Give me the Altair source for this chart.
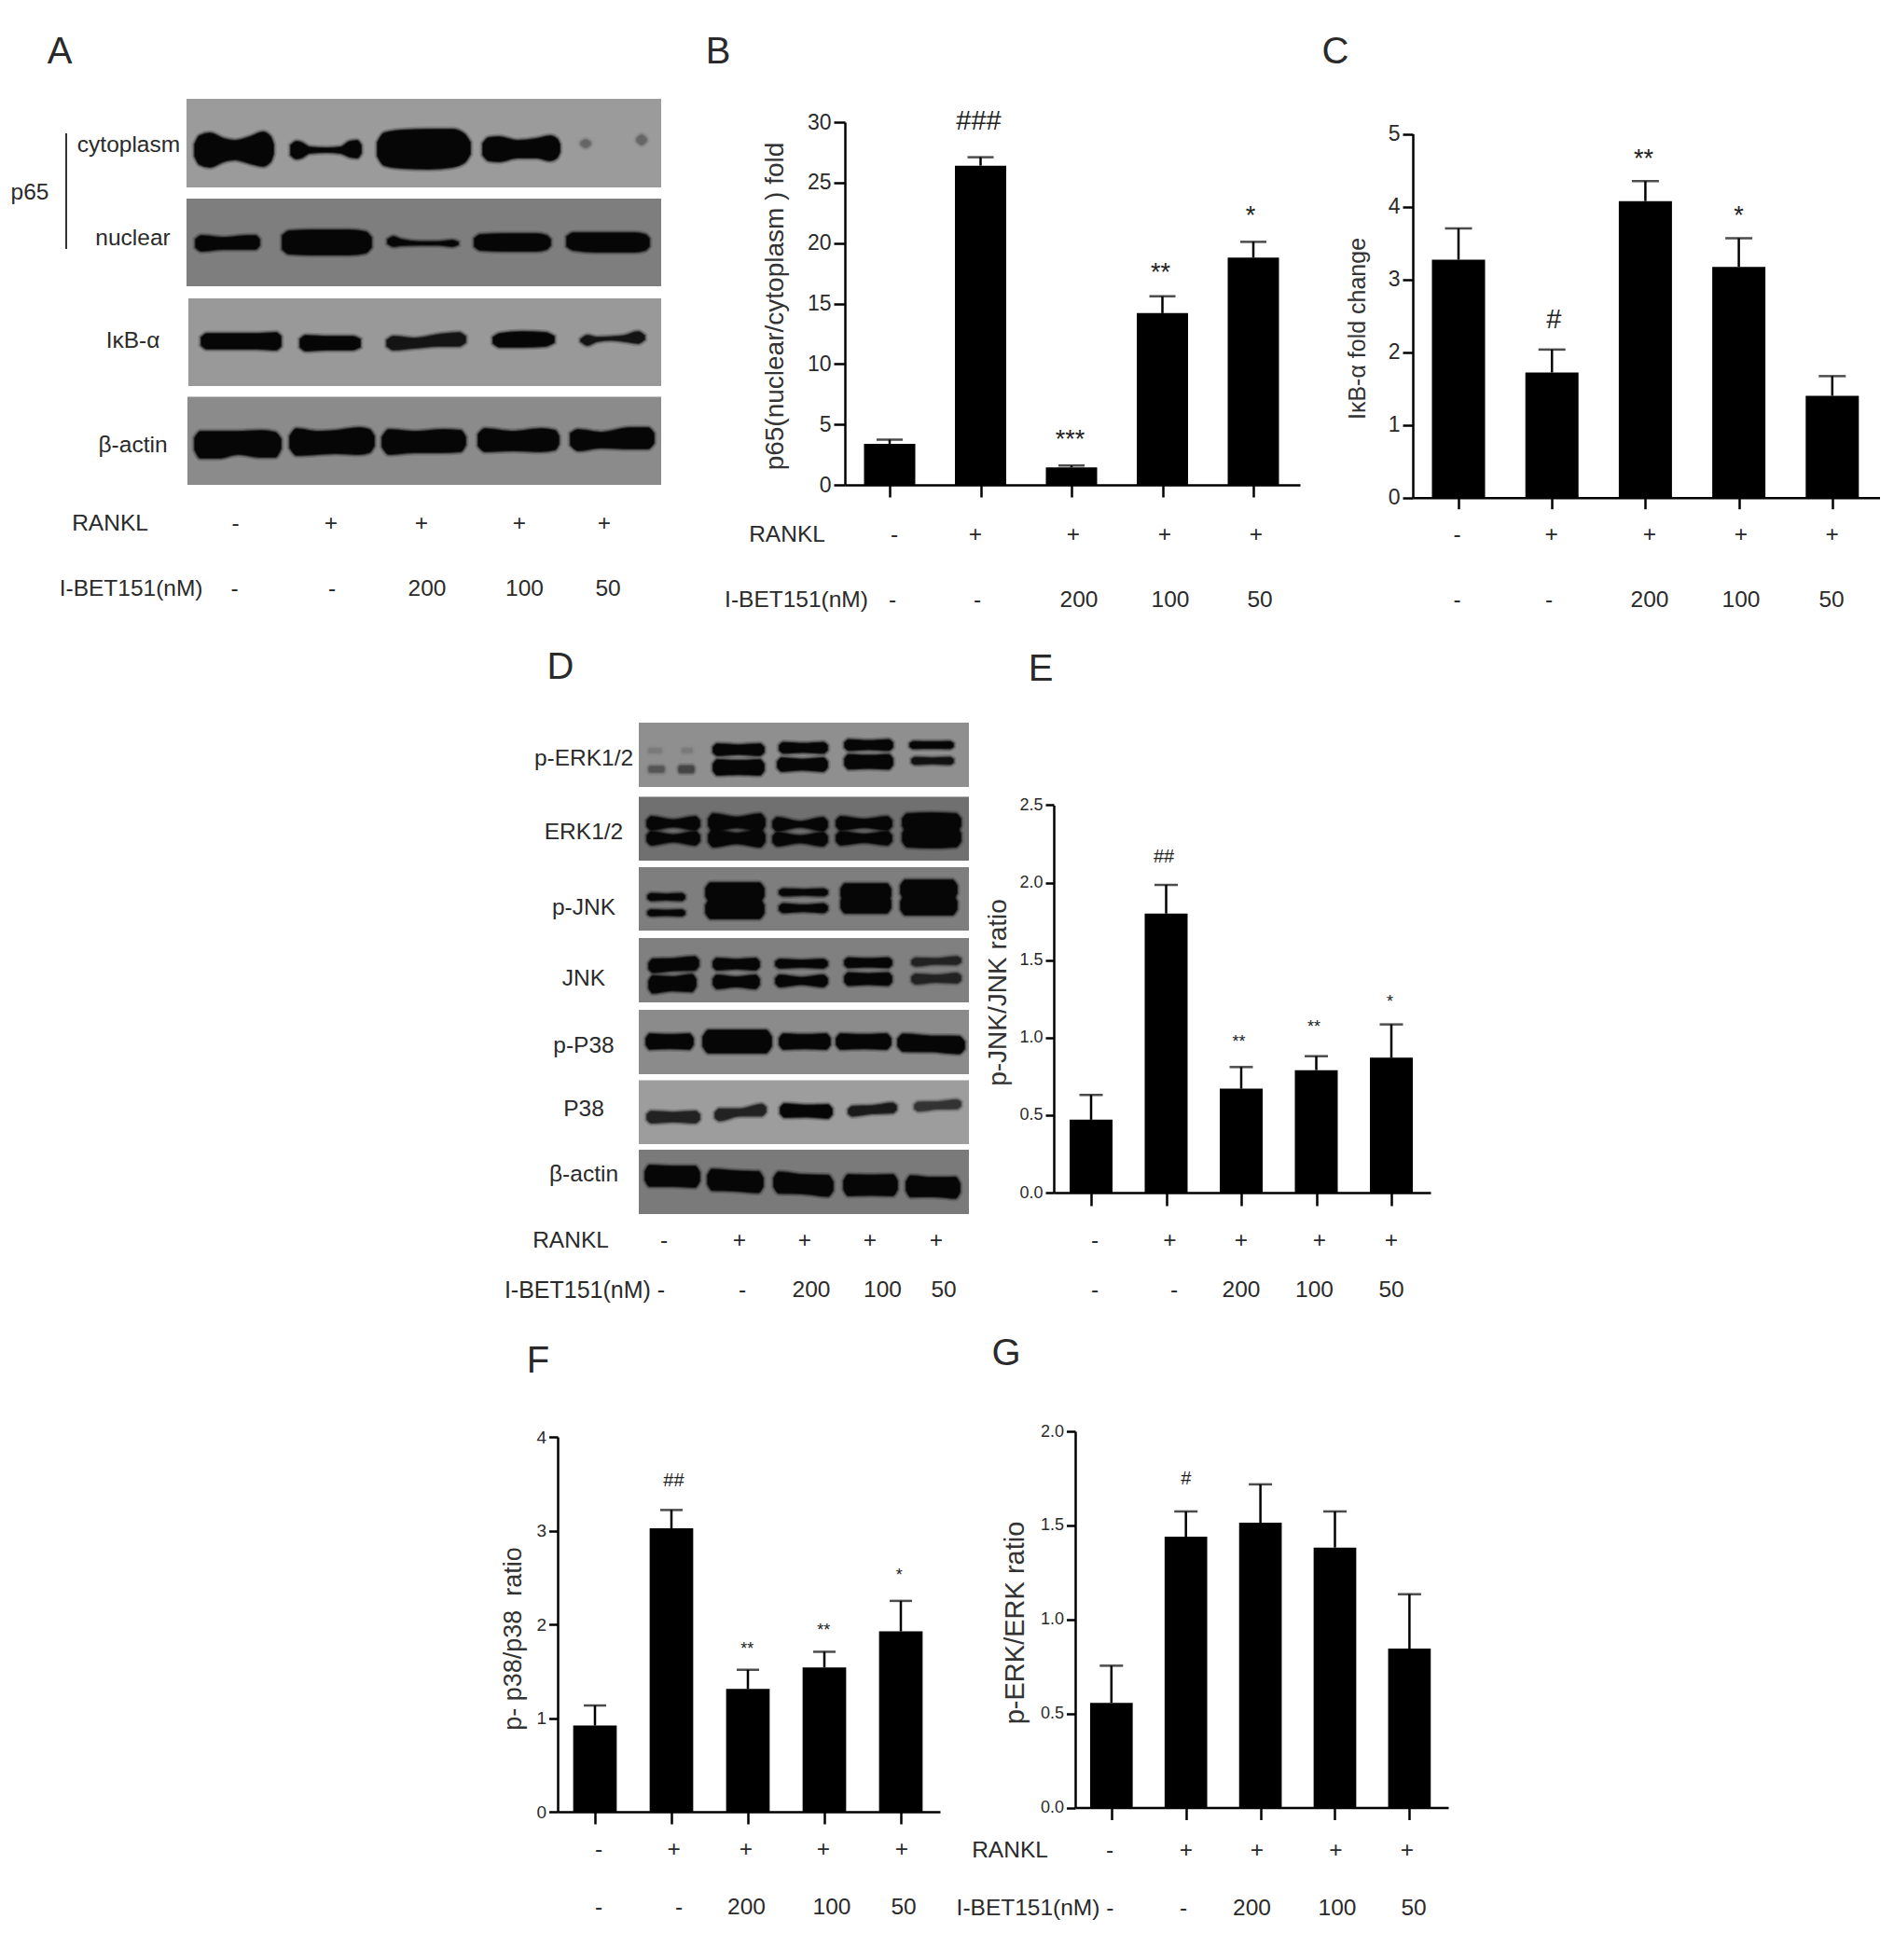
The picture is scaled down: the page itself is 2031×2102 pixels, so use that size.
import altair as alt
import pandas as pd

FONT = "Liberation Sans"
TXT = "#2a2a2a"
K = "#060606"

# ---------- bar chart values ----------
B_vals = [3.4, 26.4, 1.44, 14.2, 18.8]
B_tops = [3.74, 27.1, 1.6, 15.6, 20.1]
C_vals = [3.27, 1.72, 4.075, 3.17, 1.40]
C_tops = [3.70, 2.035, 4.35, 3.565, 1.67]
E_vals = [0.47, 1.80, 0.67, 0.79, 0.87]
E_tops = [0.63, 1.985, 0.81, 0.88, 1.085]
F_vals = [0.92, 3.025, 1.31, 1.54, 1.925]
F_tops = [1.134, 3.22, 1.515, 1.707, 2.25]
G_vals = [0.557, 1.44, 1.514, 1.382, 0.845]
G_tops = [0.754, 1.574, 1.718, 1.574, 1.134]

# significance marks: lane, height in axis units, text
B_sig = [(0.98, 30.1, "###"), (1.985, 4.29, "***"), (2.98, 18.1, "**"), (3.97, 22.8, "*")]
C_sig = [(1.02, 2.44, "#"), (1.98, 4.75, "**"), (3.0, 3.97, "*")]
E_sig = [(0.97, 2.166, "##"), (1.97, 1.0, "**"), (2.97, 1.095, "**"), (3.98, 1.26, "*")]
F_sig = [(1.03, 3.53, "##"), (1.99, 1.79, "**"), (2.99, 1.98, "**"), (3.98, 2.57, "*")]
G_sig = [(1.0, 1.747, "#")]

# ---------- layout of the three rows in figure pixels ----------
ROWS = [(8, 680), (680, 1425), (1425, 2094)]

PANELS = {
    "B": dict(row=0, ax=906, right=1394, next=1515, top=131, base=520, l0=954, sp=97.5, bw=55, cap=28,
              dom=[0, 30], ticks=[0, 5, 10, 15, 20, 25, 30], fmt="d", vals=B_vals, tops=B_tops, sig=B_sig,
              title="p65(nuclear/cytoplasm ) fold", tx=831, ty=328, tsize=28, lsize=23, ysize=12, xsize=13, sigh=29, sigs=27, sw=2.5),
    "C": dict(row=0, ax=1515, right=2016, next=2016, top=143.5, base=533.7, l0=1564, sp=100.2, bw=57, cap=29,
              dom=[0, 5], ticks=[0, 1, 2, 3, 4, 5], fmt="d", vals=C_vals, tops=C_tops, sig=C_sig,
              title="I\u03baB-\u03b1 fold change", tx=1455, ty=352, tsize=25, lsize=23, ysize=11, xsize=12, sigh=29, sigs=27, sw=2.5),
    "E": dict(row=1, ax=1130, right=1534, next=1534, top=863.4, base=1279, l0=1170, sp=80.5, bw=46, cap=25,
              dom=[0, 2.5], ticks=[0, 0.5, 1, 1.5, 2, 2.5], fmt=".1f", vals=E_vals, tops=E_tops, sig=E_sig,
              title="p-JNK/JNK ratio", tx=1070, ty=1064, tsize=28, lsize=18, ysize=9, xsize=14, sigh=20, sigs=18, sw=2.5),
    "F": dict(row=2, ax=598, right=1008, next=1153, top=1541, base=1943, l0=638, sp=82, bw=46.7, cap=24,
              dom=[0, 4], ticks=[0, 1, 2, 3, 4], fmt="d", vals=F_vals, tops=F_tops, sig=F_sig,
              title="p- p38/p38\u00a0\u00a0ratio", tx=550, ty=1757, tsize=27, lsize=19, ysize=9.5, xsize=13, sigh=20, sigs=18, sw=2.5),
    "G": dict(row=2, ax=1153, right=1553, next=1553, top=1535, base=1938.5, l0=1191.8, sp=79.9, bw=45.7, cap=25,
              dom=[0, 2], ticks=[0, 0.5, 1, 1.5, 2], fmt=".1f", vals=G_vals, tops=G_tops, sig=G_sig,
              title="p-ERK/ERK ratio", tx=1088, ty=1740, tsize=29, lsize=18, ysize=9.5, xsize=13, sigh=20, sigs=18, sw=2.5),
}


def bar_panel(p):
    rt, rb = ROWS[p["row"]]
    H = rb - rt
    x_scale = alt.Scale(domain=[(p["ax"] - p["l0"]) / p["sp"], (p["right"] - p["l0"]) / p["sp"]],
                        range=[0, p["right"] - p["ax"]], nice=False, zero=False, padding=0)
    y_scale = alt.Scale(domain=p["dom"], range=[p["base"] - rt, p["top"] - rt], nice=False)
    x_axis = alt.Axis(values=[0, 1, 2, 3, 4], labels=False, title=None, grid=False, orient="bottom",
                      offset=-(H - (p["base"] - rt)), tickSize=p["xsize"], tickWidth=p["sw"], domainWidth=p["sw"],
                      tickColor="#000", domainColor="#000")
    y_axis = alt.Axis(values=p["ticks"], format=p["fmt"], title=p["title"], grid=False, orient="left",
                      tickSize=p["ysize"], tickWidth=p["sw"], domainWidth=p["sw"], tickColor="#000", domainColor="#000",
                      labelFont=FONT, labelFontSize=p["lsize"], labelColor=TXT, labelPadding=3,
                      titleFont=FONT, titleFontSize=p["tsize"], titleFontWeight="normal", titleColor="#333",
                      titleX=p["tx"] - p["ax"], titleY=p["ty"] - rt, titleBaseline="middle", titleAngle=270)
    X = lambda f: alt.X(f, type="quantitative", scale=x_scale, axis=x_axis)
    Y = lambda f: alt.Y(f, type="quantitative", scale=y_scale, axis=y_axis, stack=None)
    df = pd.DataFrame({"lane": range(5), "value": p["vals"], "top": p["tops"]})
    bars = alt.Chart(df).mark_bar(size=p["bw"], color="#000").encode(x=X("lane"), y=Y("value"))
    stems = alt.Chart(df).mark_rule(color="#000", strokeWidth=p["sw"]).encode(
        x=X("lane"), y=Y("value"), y2=alt.Y2("top"))
    caps = alt.Chart(df).mark_tick(orient="horizontal", size=p["cap"], thickness=p["sw"], color="#000").encode(
        x=X("lane"), y=Y("top"))
    sig = pd.DataFrame(p["sig"], columns=["lane", "h", "t"])
    hashes = sig[sig.t.str.contains("#")]
    stars = sig[sig.t.str.contains(r"\*")]
    layers = [bars, stems, caps]
    if len(hashes):
        layers.append(alt.Chart(hashes).mark_text(font=FONT, fontSize=p["sigh"], color="#222", align="center", baseline="middle").encode(
            x=X("lane"), y=Y("h"), text="t:N"))
    if len(stars):
        layers.append(alt.Chart(stars).mark_text(font=FONT, fontSize=p["sigs"], color="#222", align="center", baseline="middle",
                                                  dy=0.3 * p["sigs"]).encode(x=X("lane"), y=Y("h"), text="t:N"))
    return alt.layer(*layers).properties(width=p["next"] - p["ax"], height=H)


# ---------- blots: strips (x1, x2, y1, y2, grey) ----------
A_strips = [
    (200, 709, 106, 201, "#9b9b9b"), (200, 709, 213, 307, "#7e7e7e"),
    (202, 709, 320, 414, "#999999"), (201, 709, 425.5, 520, "#8b8b8b"),
]
D_strips = [
    (685, 1039, 775, 844, "#8f8f8f"), (685, 1039, 854.5, 923, "#707070"), (685, 1039, 930, 998, "#7e7e7e"),
    (685, 1039, 1006, 1075, "#808080"), (685, 1039, 1083, 1152, "#8b8b8b"), (685, 1039, 1158.5, 1227, "#9d9d9d"),
    (685, 1039, 1233, 1302, "#7a7a7a"),
]

# band outlines in panel A: grey, then (x, centre y, half thickness)
A_bands = [
    (K, [(209,161,6),(214,161,15),(225,161,18),(240,161,12),(252,161,10),(268,161,14),(282,160,18),(290,160,13),(293,160,5)]),
    (K, [(312,161,5),(318,161,9),(323,161,8),(332,161,3),(350,161,2),(365,161,3),(375,160,8),(383,160,9),(387,160,4)]),
    (K, [(405,160,7),(412,160,17),(430,160,20),(460,160,21),(485,159,20),(498,159,15),(504,159,6)]),
    (K, [(518,160,6),(524,160,12),(535,160,13),(555,160,9),(575,159,10),(590,159,13),(597,159,10),(600,159,4)]),
    ("#666666", [(623,154,1),(628,154,4),(633,154,1)]),
    ("#666666", [(683,150,1),(688,150,5),(693,150,1)]),
    (K, [(210,261,4),(216,261,8),(240,261,6),(265,260,7),(274,260,7),(278,260,3)]),
    (K, [(303,260,7),(310,260,12),(335,260,13),(375,260,13),(392,260,11),(398,260,5)]),
    (K, [(416,259,2),(422,259,5),(430,260,3),(450,261,1.5),(470,261,1.5),(485,261,3),(491,261,1)]),
    (K, [(509,260,4),(515,260,8),(540,260,9),(575,260,9),(586,260,7),(590,260,3)]),
    (K, [(608,259,5),(615,259,9),(640,260,10),(680,260,10),(692,260,8),(696,260,4)]),
    (K, [(216,366,4),(222,366,8),(245,366,8),(275,366,8),(296,366,9),(301,366,5)]),
    (K, [(322,368,4),(328,368,8),(350,368,7),(378,368,7),(386,368,4)]),
    ("#141414", [(415,368,3),(422,368,7),(445,368,5),(470,365,6),(492,364,7),(499,364,3)]),
    (K, [(529,365,3),(536,365,7),(560,364,8),(585,364,7),(594,364,3)]),
    ("#141414", [(623,365,1),(630,365,5),(640,364,2),(655,363,1.5),(670,363,3),(684,362,6),(691,362,2)]),
    (K, [(209,476,6),(215,477,14),(235,477,14),(255,475,12),(280,476,14),(295,477,13),(301,476,5)]),
    (K, [(311,474,6),(318,474,14),(340,475,12),(360,474,12),(385,473,14),(396,473,12),(401,473,5)]),
    (K, [(410,474,5),(417,474,13),(445,474,11),(475,473,12),(494,473,11),(499,473,4)]),
    (K, [(513,472,6),(520,472,12),(550,473,10),(580,472,12),(595,472,10),(599,472,4)]),
    (K, [(612,471,6),(620,472,11),(645,472,8),(675,470,11),(695,470,11),(701,470,5)]),
]

# bands in panel D: x1, x2, y left, y right, half thickness, waist ratio, grey
D_simple = [
    (696,709,805,805,2,1,"#7a7a7a"), (732,742,805,805,2,1,"#7a7a7a"), (696,712,825,825,3,1,"#555555"), (728,744,825,825,3.5,1,"#444444"),
    (765,819,804,804,6,.8,K), (765,819,823,823,8,.9,K), (836,887,802,802,5.5,.8,K), (834,887,820,820,7,.8,K),
    (906,957,799,799,5.5,.8,K), (906,957,817,817,7.5,.9,K), (976,1022,799,799,3.5,.9,K), (978,1022,816,816,3.5,.8,"#111111"),
    (694,750,883,883,7,.5,K), (694,750,899,899,7,.5,K), (760,820,882,882,9,.6,K), (760,820,899,899,9,.6,K),
    (829,887,884,884,7,.4,K), (829,887,900,900,7,.5,K), (897,956,883,883,7,.6,K), (897,956,899,899,7,.6,K),
    (968,1030,882,882,9,1.1,K), (968,1030,898,898,10,1.1,K),
    (695,734,962,962,3.5,.8,K), (695,734,979,979,3,.8,K), (757,819,957,957,10,1,K), (757,819,975,975,10,1,K),
    (836,887,957,957,3.5,.8,K), (836,887,974,974,4.5,.7,K), (902,955,957,957,9,1,K), (902,955,970,970,9,1,K),
    (966,1026,954,954,10,1,K), (966,1026,971,971,10,1,K),
    (696,749,1036,1033,7,.9,K), (696,746,1056,1054,9,.8,K), (765,814,1034,1034,6,.8,K), (765,814,1053,1053,7,.7,K),
    (832,887,1033.5,1033.5,4.5,.8,K), (832,887,1052,1052,6,.6,K), (906,956,1032.5,1032.5,5,.85,K), (906,956,1050,1050,6.5,.85,K),
    (978,1030,1032,1030,4,.7,"#222222"), (978,1030,1050,1049,5,.7,"#222222"),
    (693,743,1117,1117,8,.9,K), (754,827,1117,1117,12,1,K), (836,890,1117,1117,8,.9,K), (897,955,1117,1117,8,.9,K), (963,1034,1118,1121,9,.9,K),
    (694,750,1198,1198,6,.8,"#222222"), (767,821,1196,1190,6,.6,"#222222"), (837,892,1191,1192,7,.85,K),
    (910,961,1192,1188,5,.8,"#1a1a1a"), (981,1030,1187,1184,4.5,.8,"#333333"),
    (692,750,1261,1262,11,.95,K), (759,818,1265,1268,11,.95,K), (830,893,1268,1272,11,.9,K), (905,962,1271,1271,11,.95,K), (972,1029,1272,1274,11,.9,K),
]


def outline(b):
    x1, x2, y1, y2, h, m, g = b
    w = x2 - x1
    return (g, [(x1, y1, .4 * h), (x1 + .08 * w, y1 + .08 * (y2 - y1), h), (x1 + .5 * w, (y1 + y2) / 2, h * m),
                (x2 - .08 * w, y2 - .08 * (y2 - y1), h), (x2, y2, .4 * h)])


D_bands = [outline(b) for b in D_simple]

# ---------- text: x, y, text, size ----------
S = 24.5
ROW0_TEXT = [
    (64, 56, "A", 40), (770, 56, "B", 40), (1432, 56, "C", 40),
    (32, 207, "p65", S), (138, 156, "cytoplasm", S), (142.5, 256, "nuclear", S), (142.5, 366, "I\u03baB-\u03b1", S), (142.5, 478, "\u03b2-actin", S),
    (118, 562, "RANKL", S), (252.5, 562, "-", S), (355, 562, "+", S), (452, 562, "+", S), (557, 562, "+", S), (648, 562, "+", S),
    (140.6, 632, "I-BET151(nM)", S), (251.5, 632, "-", S), (356, 632, "-", S), (458, 632, "200", S), (562.5, 632, "100", S), (652, 632, "50", S),
    (844, 573.5, "RANKL", S), (959, 573.5, "-", S), (1046, 573.5, "+", S), (1151, 573.5, "+", S), (1249, 573.5, "+", S), (1347, 573.5, "+", S),
    (854, 644, "I-BET151(nM)", S), (957, 644, "-", S), (1048, 644, "-", S), (1157, 644, "200", S), (1255, 644, "100", S), (1351, 644, "50", S),
    (1562.5, 573.5, "-", S), (1663.7, 573.5, "+", S), (1769, 573.5, "+", S), (1867, 573.5, "+", S), (1964.6, 573.5, "+", S),
    (1562.5, 644, "-", S), (1661, 644, "-", S), (1769, 644, "200", S), (1867, 644, "100", S), (1964, 644, "50", S),
]
ROW1_TEXT = [
    (601, 716, "D", 40), (1116, 718, "E", 40),
    (626, 814, "p-ERK1/2", S), (626, 893, "ERK1/2", S), (626, 974, "p-JNK", S), (626, 1049.5, "JNK", S),
    (626, 1122, "p-P38", S), (626, 1190, "P38", S), (626, 1260, "\u03b2-actin", S),
    (612, 1331, "RANKL", S), (712, 1331, "-", S), (793, 1331, "+", S), (863, 1331, "+", S), (933, 1331, "+", S), (1004, 1331, "+", S),
    (627, 1384, "I-BET151(nM) -", 25), (796, 1384, "-", S), (870, 1384, "200", S), (946.5, 1384, "100", S), (1012, 1384, "50", S),
    (1174, 1331, "-", S), (1254.5, 1331, "+", S), (1331, 1331, "+", S), (1415, 1331, "+", S), (1492, 1331, "+", S),
    (1174, 1384, "-", S), (1259, 1384, "-", S), (1331, 1384, "200", S), (1409.5, 1384, "100", S), (1492, 1384, "50", S),
]
ROW2_TEXT = [
    (577, 1460, "F", 40), (1079, 1452, "G", 40),
    (642, 1984, "-", S), (722.7, 1984, "+", S), (800, 1984, "+", S), (883, 1984, "+", S), (967, 1984, "+", S),
    (642, 2046, "-", S), (728, 2046, "-", S), (800.5, 2046, "200", S), (892, 2046, "100", S), (969, 2046, "50", S),
    (1083, 1985, "RANKL", S), (1190, 1985, "-", S), (1272, 1985, "+", S), (1348, 1985, "+", S), (1432.5, 1985, "+", S), (1509, 1985, "+", S),
    (1110, 2047, "I-BET151(nM) -", S), (1269, 2047, "-", S), (1342.5, 2047, "200", S), (1434, 2047, "100", S), (1516, 2047, "50", S),
]


def figure_layer(row, x_end, texts, strips=None, bands=None, lines=None):
    rt, rb = ROWS[row]
    xs = alt.Scale(domain=[8, x_end], range=[0, x_end - 8], nice=False, zero=False)
    ys = alt.Scale(domain=[rt, rb], range=[0, rb - rt], nice=False, zero=False)
    X = lambda f: alt.X(f, type="quantitative", scale=xs, axis=None)
    Y = lambda f: alt.Y(f, type="quantitative", scale=ys, axis=None, stack=None)
    layers = []
    # keeps the row's full extent in the layout
    frame = pd.DataFrame({"x": [8], "x2": [x_end], "y": [rt], "y2": [rb]})
    layers.append(alt.Chart(frame).mark_rect(fill="#ffffff", opacity=0).encode(
        x=X("x"), x2=alt.X2("x2"), y=Y("y"), y2=alt.Y2("y2")))
    if strips:
        df = pd.DataFrame(strips, columns=["x", "x2", "y", "y2", "g"])
        layers.append(alt.Chart(df).mark_rect().encode(
            x=X("x"), x2=alt.X2("x2"), y=Y("y"), y2=alt.Y2("y2"), color=alt.Color("g:N", scale=None)))
    if bands:
        recs = []
        for i, (g, pts) in enumerate(bands):
            for x, y, h in pts:
                recs.append({"band": i, "g": g, "x": x, "lo": y - h, "hi": y + h})
        df = pd.DataFrame(recs)
        for sw, so in [(7, 0.18), (4, 0.3), (2, 0.6)]:
            layers.append(alt.Chart(df).mark_area(interpolate="monotone", strokeWidth=sw, strokeOpacity=so, fillOpacity=0).encode(
                x=X("x"), y=Y("lo"), y2=alt.Y2("hi"), detail="band:N",
                stroke=alt.Stroke("g:N", scale=None)))
        layers.append(alt.Chart(df).mark_area(interpolate="monotone").encode(
            x=X("x"), y=Y("lo"), y2=alt.Y2("hi"), detail="band:N",
            color=alt.Color("g:N", scale=None)))
    if lines:
        df = pd.DataFrame(lines, columns=["x", "y", "y2"])
        layers.append(alt.Chart(df).mark_rule(color="#333333", strokeWidth=2).encode(
            x=X("x"), y=Y("y"), y2=alt.Y2("y2")))
    df = pd.DataFrame(texts, columns=["x", "y", "t", "s"])
    layers.append(alt.Chart(df).mark_text(font=FONT, color=TXT, align="center", baseline="middle").encode(
        x=X("x"), y=Y("y"), text="t:N", size=alt.Size("s:Q", scale=None)))
    return alt.layer(*layers).properties(width=x_end - 8, height=rb - rt)


row0 = alt.hconcat(figure_layer(0, 906, ROW0_TEXT, A_strips, A_bands, [(71, 143, 267)]),
                   bar_panel(PANELS["B"]), bar_panel(PANELS["C"]), spacing=0, bounds="flush")
row1 = alt.hconcat(figure_layer(1, 1130, ROW1_TEXT, D_strips, D_bands),
                   bar_panel(PANELS["E"]), spacing=0, bounds="flush")
row2 = alt.hconcat(figure_layer(2, 598, ROW2_TEXT),
                   bar_panel(PANELS["F"]), bar_panel(PANELS["G"]), spacing=0, bounds="flush")

chart = alt.vconcat(row0, row1, row2, spacing=0).properties(padding=0, background="#ffffff").configure_view(strokeWidth=0)
chart.save("out.html", embed_options={"renderer": "svg", "actions": False})
